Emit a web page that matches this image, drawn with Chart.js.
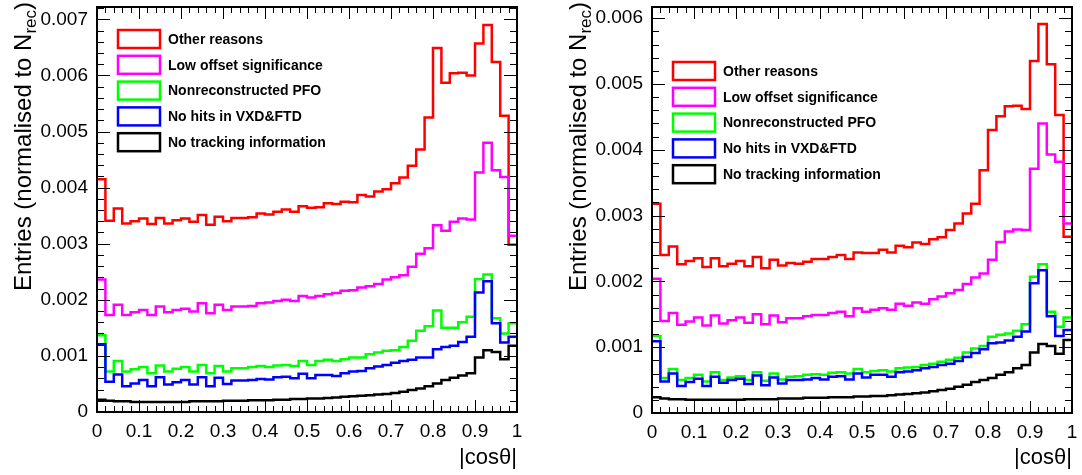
<!DOCTYPE html>
<html lang="en">
<head>
    <meta charset="UTF-8">
    <title>cos theta</title>
    <script src="https://cdn.jsdelivr.net/npm/chart.js@4.4.0/dist/chart.umd.min.js"></script>
    <style>
        body {
            margin: 0;
            padding: 0;
            background: #fff;
        }

        #wrap {
            position: relative;
            width: 1082px;
            height: 475px;
        }

        #wrap canvas {
            position: absolute;
            top: 0;
        }
    </style>
</head>
<body>
<div id="wrap">
    <canvas id="chartLeft" width="541" height="475" style="left:0"></canvas>
    <canvas id="chartRight" width="541" height="475" style="left:541px"></canvas>
</div>
<script>
    // bin edges of |cos theta| (50 bins)
    const binEdges = [0, 0.02, 0.04, 0.06, 0.08, 0.1, 0.12, 0.14, 0.16, 0.18,
        0.2, 0.22, 0.24, 0.26, 0.28, 0.3, 0.32, 0.34, 0.36, 0.38,
        0.4, 0.42, 0.44, 0.46, 0.48, 0.5, 0.52, 0.54, 0.56, 0.58,
        0.6, 0.62, 0.64, 0.66, 0.68, 0.7, 0.72, 0.74, 0.76, 0.78,
        0.8, 0.82, 0.84, 0.86, 0.88, 0.9, 0.92, 0.94, 0.96, 0.98, 1];

    const seriesNames = ['Other reasons', 'Low offset significance', 'Nonreconstructed PFO',
        'No hits in VXD&FTD', 'No tracking information'];
    const seriesColors = ['#ff0000', '#ff00ff', '#00ff00', '#0000ff', '#000000'];

    const xTicks = [0, 0.1, 0.2, 0.3, 0.4, 0.5, 0.6, 0.7, 0.8, 0.9, 1];
    const yTicks = [0, 0.001, 0.002, 0.003, 0.004, 0.005, 0.006, 0.007];

    // left plot
    const red1 = [0.00415, 0.00341, 0.00363, 0.00336, 0.0034, 0.00345, 0.00335, 0.00346, 0.00336, 0.00342,
        0.00345, 0.00339, 0.00351, 0.00334, 0.00348, 0.0034, 0.00346, 0.00346, 0.00347, 0.00354,
        0.00352, 0.00357, 0.00361, 0.00357, 0.00367, 0.00364, 0.00365, 0.00372, 0.00371, 0.00375,
        0.00374, 0.00387, 0.00384, 0.00393, 0.00397, 0.00408, 0.00418, 0.00439, 0.00468, 0.00525,
        0.00649, 0.00587, 0.00604, 0.00605, 0.006, 0.00657, 0.0069, 0.00624, 0.00528, 0.00298];
    const magenta1 = [0.00236, 0.00173, 0.00191, 0.00173, 0.00178, 0.00182, 0.00173, 0.00188, 0.00178, 0.00182,
        0.00184, 0.00179, 0.00194, 0.00176, 0.00191, 0.00182, 0.00188, 0.00188, 0.00189, 0.00194,
        0.00195, 0.00198, 0.002, 0.00198, 0.00207, 0.00204, 0.00207, 0.0021, 0.00212, 0.00216,
        0.00217, 0.00222, 0.00224, 0.00228, 0.00236, 0.0024, 0.00244, 0.00259, 0.00282, 0.00292,
        0.00333, 0.00323, 0.00339, 0.00345, 0.00343, 0.00427, 0.0048, 0.00431, 0.00419, 0.00314];
    const green1 = [0.00137, 0.00072, 0.00091, 0.00072, 0.00076, 0.0008, 0.00069, 0.00083, 0.00072, 0.00077,
        0.0008, 0.00072, 0.00084, 0.00069, 0.00082, 0.00072, 0.00078, 0.00078, 0.0008, 0.00082,
        0.0008, 0.00083, 0.00084, 0.00082, 0.00091, 0.00084, 0.00091, 0.00093, 0.00091, 0.00094,
        0.00097, 0.00097, 0.00103, 0.00106, 0.00109, 0.0011, 0.00116, 0.00127, 0.00145, 0.00153,
        0.00181, 0.0015, 0.0015, 0.0016, 0.0017, 0.00237, 0.00245, 0.00167, 0.0014, 0.00158];
    const blue1 = [0.00121, 0.00054, 0.00067, 0.00046, 0.00051, 0.00057, 0.00046, 0.00062, 0.00049, 0.00053,
        0.00057, 0.00049, 0.00062, 0.00046, 0.00061, 0.0005, 0.00056, 0.00056, 0.00057, 0.00059,
        0.00058, 0.00062, 0.00063, 0.0006, 0.00068, 0.0006, 0.00066, 0.00066, 0.00064, 0.00069,
        0.00072, 0.00073, 0.00078, 0.00081, 0.00084, 0.00088, 0.00091, 0.00093, 0.00097, 0.00097,
        0.00112, 0.00116, 0.00118, 0.00125, 0.00134, 0.00213, 0.00233, 0.00158, 0.00124, 0.00134];
    const black1 = [0.00022, 0.0002, 0.00019, 0.00019, 0.00018, 0.00018, 0.00018, 0.00018, 0.00018, 0.00018,
        0.00018, 0.00019, 0.00019, 0.00019, 0.00019, 0.0002, 0.0002, 0.0002, 0.00021, 0.00021,
        0.00021, 0.00022, 0.00022, 0.00023, 0.00023, 0.00024, 0.00024, 0.00025, 0.00026, 0.00027,
        0.00028, 0.00029, 0.0003, 0.00031, 0.00032, 0.00034, 0.00036, 0.00039, 0.00042, 0.00046,
        0.00051, 0.00057, 0.00061, 0.00065, 0.00069, 0.00097, 0.0011, 0.00107, 0.00094, 0.00118];

    // right plot
    const red2 = [0.00318, 0.0024, 0.00253, 0.00226, 0.00231, 0.00235, 0.00222, 0.00235, 0.00223, 0.00227,
        0.00231, 0.00223, 0.00237, 0.0022, 0.00233, 0.00224, 0.00228, 0.00227, 0.0023, 0.00234,
        0.00234, 0.00237, 0.0024, 0.00234, 0.00244, 0.00243, 0.00243, 0.00248, 0.00244, 0.00254,
        0.00252, 0.00259, 0.00257, 0.00264, 0.00267, 0.00278, 0.00288, 0.00303, 0.00318, 0.00369,
        0.0043, 0.00451, 0.00466, 0.00467, 0.00462, 0.00535, 0.00591, 0.0053, 0.00453, 0.00268];
    const magenta2 = [0.00204, 0.0014, 0.00152, 0.00134, 0.00139, 0.00145, 0.00133, 0.00148, 0.00136, 0.00141,
        0.00145, 0.00137, 0.0015, 0.00135, 0.00148, 0.00138, 0.00144, 0.00144, 0.00147, 0.00149,
        0.00149, 0.00152, 0.00154, 0.00147, 0.00159, 0.00154, 0.00157, 0.00159, 0.00157, 0.00166,
        0.00163, 0.00168, 0.00166, 0.00173, 0.00177, 0.00182, 0.00187, 0.00196, 0.00206, 0.00212,
        0.00233, 0.0026, 0.00276, 0.00279, 0.00278, 0.00371, 0.0044, 0.00393, 0.00382, 0.00288];
    const green2 = [0.00117, 0.00053, 0.00067, 0.0005, 0.00053, 0.00058, 0.00048, 0.00062, 0.0005, 0.00054,
        0.00056, 0.0005, 0.00062, 0.00049, 0.0006, 0.00051, 0.00055, 0.00056, 0.00058, 0.00059,
        0.00058, 0.00061, 0.00062, 0.0006, 0.00067, 0.00062, 0.00064, 0.00065, 0.00063, 0.00068,
        0.00069, 0.0007, 0.00073, 0.00075, 0.00078, 0.00081, 0.00084, 0.00092, 0.00098, 0.00102,
        0.00116, 0.00119, 0.00121, 0.00125, 0.00135, 0.00207, 0.00226, 0.00154, 0.00131, 0.00145];
    const blue2 = [0.00109, 0.00048, 0.0006, 0.00041, 0.00047, 0.00052, 0.00041, 0.00055, 0.00046, 0.0005,
        0.00052, 0.00044, 0.00057, 0.00042, 0.00054, 0.00045, 0.0005, 0.0005, 0.00051, 0.00053,
        0.00051, 0.00055, 0.00056, 0.00051, 0.0006, 0.00054, 0.00058, 0.00058, 0.00055, 0.00062,
        0.00063, 0.00065, 0.00068, 0.0007, 0.00073, 0.00075, 0.00079, 0.00085, 0.00091, 0.00097,
        0.00106, 0.00107, 0.0011, 0.00116, 0.00124, 0.00197, 0.00217, 0.00147, 0.00117, 0.00126];
    const black2 = [0.00024, 0.00022, 0.00021, 0.00021, 0.0002, 0.0002, 0.0002, 0.0002, 0.0002, 0.0002,
        0.0002, 0.00021, 0.00021, 0.00021, 0.00021, 0.00022, 0.00022, 0.00022, 0.00023, 0.00023,
        0.00023, 0.00024, 0.00024, 0.00024, 0.00025, 0.00025, 0.00026, 0.00026, 0.00027, 0.00028,
        0.00029, 0.0003, 0.00031, 0.00033, 0.00035, 0.00037, 0.0004, 0.00043, 0.00047, 0.0005,
        0.00053, 0.00058, 0.00062, 0.00068, 0.00073, 0.00092, 0.00105, 0.00102, 0.0009, 0.00111];

    Chart.defaults.font.family = "'Liberation Sans', Arial, Helvetica, sans-serif";
    Chart.defaults.color = '#000';

    // histogram -> step points (left edges + closing point at the last edge)
    function histPoints(values) {
        const pts = values.map((v, i) => ({x: binEdges[i], y: v}));
        pts.push({x: binEdges[binEdges.length - 1], y: values[values.length - 1]});
        return pts;
    }

    // ROOT style frame, inward ticks, legend and y title
    const rootStyle = {
        id: 'rootStyle',
        afterDraw(chart) {
            const {ctx, chartArea: a, scales: {x, y}} = chart;
            const o = chart.options.plugins.rootStyle;
            ctx.save();

            // x ticks (major every 0.1, minor every 0.02)
            ctx.strokeStyle = '#000';
            ctx.lineWidth = 1;
            ctx.beginPath();
            binEdges.forEach((v, i) => {
                const px = Math.round(x.getPixelForValue(v)) + 0.5;
                const len = i % 5 === 0 ? 12 : 6;
                ctx.moveTo(px, a.bottom); ctx.lineTo(px, a.bottom - len);
                ctx.moveTo(px, a.top); ctx.lineTo(px, a.top + len);
            });
            // y ticks (major every 0.001, 5 minor divisions)
            const step = (yTicks[1] - yTicks[0]) / 5;
            for (let k = 0; k * step <= y.max + 1e-12; k++) {
                const py = Math.round(y.getPixelForValue(k * step)) + 0.5;
                const len = k % 5 === 0 ? 13 : 7;
                ctx.moveTo(a.left, py); ctx.lineTo(a.left + len, py);
                ctx.moveTo(a.right, py); ctx.lineTo(a.right - len, py);
            }
            ctx.stroke();

            // frame
            ctx.lineWidth = 2;
            ctx.strokeRect(a.left, a.top, a.right - a.left, a.bottom - a.top);

            // legend
            ctx.font = 'bold 14px ' + Chart.defaults.font.family;
            ctx.textBaseline = 'middle';
            ctx.textAlign = 'left';
            chart.data.datasets.forEach((ds, i) => {
                const cy = o.legendTop + i * 25.8;
                ctx.strokeStyle = ds.borderColor;
                ctx.lineWidth = 2.5;
                ctx.strokeRect(a.left + 21, cy - 9, 42, 18);
                ctx.fillStyle = '#000';
                ctx.fillText(ds.label, a.left + 71, cy + 1);
            });

            // y title with subscript, starting at titleStart and reading upwards
            const bigFont = '24px ' + Chart.defaults.font.family;
            const subFont = '17px ' + Chart.defaults.font.family;
            const main = 'Entries (normalised to N';
            ctx.font = bigFont;
            const wMain = ctx.measureText(main).width;
            ctx.font = subFont;
            const wSub = ctx.measureText('rec').width;
            ctx.translate(o.titleX, o.titleStart);
            ctx.rotate(-Math.PI / 2);
            ctx.fillStyle = '#000';
            ctx.textBaseline = 'alphabetic';
            ctx.font = bigFont;
            ctx.fillText(main, 0, 0);
            ctx.font = subFont;
            ctx.fillText('rec', wMain, 5);
            ctx.font = bigFont;
            ctx.fillText(')', wMain + wSub, 0);
            ctx.restore();
        }
    };

    function makeChart(id, series, yMax, box) {
        const ctx = document.getElementById(id).getContext('2d');
        return new Chart(ctx, {
            type: 'line',
            data: {
                datasets: series.map((vals, i) => ({
                    label: seriesNames[i],
                    data: histPoints(vals),
                    borderColor: seriesColors[i],
                    borderWidth: 2.5,
                    stepped: 'before',
                    pointRadius: 0,
                    fill: false,
                    tension: 0,
                    order: 5 - i
                }))
            },
            options: {
                responsive: false,
                animation: false,
                events: [],
                layout: {
                    padding: {left: 0, right: box.right, top: 7, bottom: 0}
                },
                plugins: {
                    legend: {display: false},
                    tooltip: {enabled: false},
                    rootStyle: {legendTop: box.legendTop, titleX: box.titleX, titleStart: 291}
                },
                scales: {
                    x: {
                        type: 'linear',
                        min: 0,
                        max: 1,
                        afterFit: s => {
                            s.height = box.bottom;
                            s.paddingLeft = 0;
                            s.paddingRight = 0;
                        },
                        afterBuildTicks: s => { s.ticks = xTicks.map(v => ({value: v})); },
                        grid: {display: false, drawTicks: false},
                        border: {display: false},
                        ticks: {
                            autoSkip: false,
                            maxRotation: 0,
                            padding: 8,
                            font: {size: 19},
                            callback: v => String(+v.toFixed(1))
                        },
                        title: {
                            display: true,
                            text: '|cosθ|',
                            align: 'end',
                            font: {size: 22},
                            padding: {top: 0, bottom: 4}
                        }
                    },
                    y: {
                        min: 0,
                        max: yMax,
                        afterFit: s => {
                            s.width = box.left;
                            s.paddingTop = 0;
                            s.paddingBottom = 0;
                        },
                        afterBuildTicks: s => { s.ticks = yTicks.filter(v => v <= yMax).map(v => ({value: v})); },
                        grid: {display: false, drawTicks: false},
                        border: {display: false},
                        ticks: {
                            padding: 9,
                            font: {size: 19},
                            callback: v => v === 0 ? '0' : v.toFixed(3)
                        }
                    }
                }
            },
            plugins: [rootStyle]
        });
    }

    makeChart('chartLeft', [red1, magenta1, green1, blue1, black1], 0.00722,
        {left: 97, right: 24, bottom: 63, legendTop: 39, titleX: 31});
    makeChart('chartRight', [red2, magenta2, green2, blue2, black2], 0.00617,
        {left: 111, right: 10, bottom: 62, legendTop: 71, titleX: 45});
</script>
</body>
</html>
